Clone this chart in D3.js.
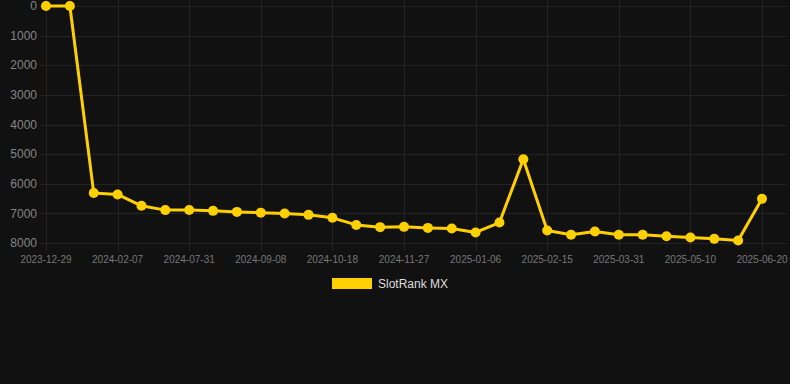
<!DOCTYPE html>
<html>
<head>
<meta charset="UTF-8">
<script src="https://cdnjs.cloudflare.com/ajax/libs/d3/7.8.5/d3.min.js"></script>
<style>
    html, body { margin: 0; padding: 0; background: #111111; }
    body { width: 790px; height: 384px; overflow: hidden; font-family: "Liberation Sans", Arial, sans-serif; }
    .grid line { stroke: #232323; stroke-width: 1; shape-rendering: crispEdges; }
    .tick-y { fill: #858585; font-size: 12px; }
    .tick-x { fill: #777; font-size: 10px; }
    .legend-text { fill: #dddddd; font-size: 12px; }
</style>
</head>
<body>
<div id="chart"></div>
<script>
// dates on the x axis (only every 3rd one is shown)
const dates = [
    "2023-12-29", "2024-01-11", "2024-01-24", "2024-02-07", "2024-05-10", "2024-06-20",
    "2024-07-31", "2024-08-13", "2024-08-26", "2024-09-08", "2024-09-21", "2024-10-05",
    "2024-10-18", "2024-10-31", "2024-11-14", "2024-11-27", "2024-12-10", "2024-12-23",
    "2025-01-06", "2025-01-19", "2025-02-01", "2025-02-15", "2025-03-01", "2025-03-15",
    "2025-03-31", "2025-04-13", "2025-04-26", "2025-05-10", "2025-05-24", "2025-06-06",
    "2025-06-20"
];
// rank values
const ranks = [
    0, 0, 6310, 6360, 6745, 6890, 6885, 6915, 6950, 6975, 7005, 7050,
    7150, 7390, 7465, 7455, 7490, 7510, 7645, 7310, 5170, 7580, 7720, 7610,
    7720, 7720, 7770, 7815, 7860, 7915, 6510
];
const yTicks = [0, 1000, 2000, 3000, 4000, 5000, 6000, 7000, 8000];
const seriesName = "SlotRank MX";
const lineColor = "#ffd000";

const W = 790, H = 384;
const svg = d3.select("#chart").append("svg")
    .attr("width", W)
    .attr("height", H);

const x = d3.scalePoint()
    .domain(dates)
    .range([46, 762]);

const y = d3.scaleLinear()
    .domain([0, 8000])
    .range([6, 243]);

// horizontal grid
svg.append("g").attr("class", "grid")
    .selectAll("line")
    .data(yTicks)
    .enter().append("line")
    .attr("x1", 40).attr("x2", 786)
    .attr("y1", d => Math.round(y(d)) + 0.5)
    .attr("y2", d => Math.round(y(d)) + 0.5);

const shown = dates.filter((d, i) => i % 3 === 0);

// vertical grid
svg.append("g").attr("class", "grid")
    .selectAll("line")
    .data(shown)
    .enter().append("line")
    .attr("x1", d => Math.round(x(d)) + 0.5)
    .attr("x2", d => Math.round(x(d)) + 0.5)
    .attr("y1", 0).attr("y2", 251);

// y labels
svg.append("g")
    .selectAll("text")
    .data(yTicks)
    .enter().append("text")
    .attr("class", "tick-y")
    .attr("x", 37)
    .attr("y", d => y(d))
    .attr("dy", "0.35em")
    .attr("text-anchor", "end")
    .text(d => d);

// x labels
svg.append("g")
    .selectAll("text")
    .data(shown)
    .enter().append("text")
    .attr("class", "tick-x")
    .attr("x", d => x(d))
    .attr("y", 259)
    .attr("dy", "0.35em")
    .attr("text-anchor", "middle")
    .text(d => d);

const pts = dates.map((d, i) => ({ date: d, rank: ranks[i] }));

const line = d3.line()
    .x(d => x(d.date))
    .y(d => y(d.rank));

svg.append("path")
    .datum(pts)
    .attr("fill", "none")
    .attr("stroke", lineColor)
    .attr("stroke-width", 3)
    .attr("stroke-linejoin", "round")
    .attr("d", line);

svg.selectAll(".dot")
    .data(pts)
    .enter().append("circle")
    .attr("class", "dot")
    .attr("cx", d => x(d.date))
    .attr("cy", d => y(d.rank))
    .attr("r", 5)
    .attr("fill", lineColor);

// legend
const legend = svg.append("g").attr("transform", "translate(332,278)");
legend.append("rect")
    .attr("width", 40)
    .attr("height", 11)
    .attr("fill", lineColor);
legend.append("text")
    .attr("class", "legend-text")
    .attr("x", 46)
    .attr("y", 6)
    .attr("dy", "0.35em")
    .text(seriesName);
</script>
</body>
</html>
